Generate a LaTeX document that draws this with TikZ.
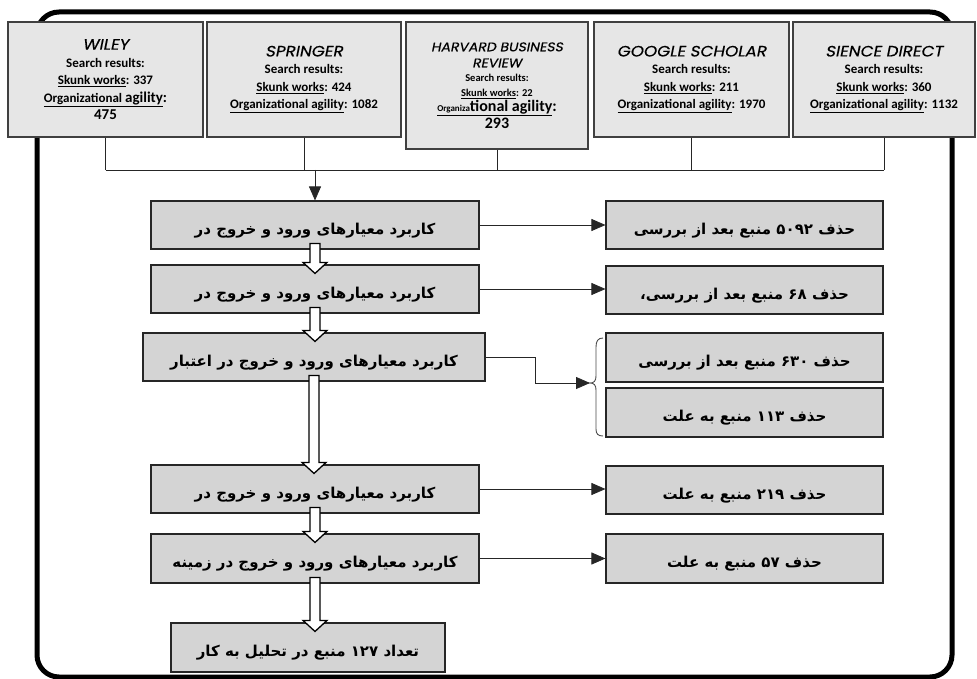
\documentclass[tikz,border=0pt]{standalone}
\usepackage{fontspec}
\setmainfont{Carlito}
\newfontfamily\arabicfont[Script=Arabic]{DejaVu Sans}
\newfontfamily\titlefont[FakeSlant=0.2, FakeStretch=1.12, FakeBold=0.4]{Poppins}
\TeXXeTstate=1
\usetikzlibrary{arrows.meta,calc}
\definecolor{topfill}{HTML}{E6E6E6}
\definecolor{boxfill}{HTML}{D4D4D4}
\newcommand\hollowarr[2]{%
  \draw[hollow] ($(#1.south)+(-5,-6)$) -- ($(#1.south |- #2.north)+(-5,-2)$) -- ++(-7,0)
    -- ($(#1.south |- #2.north)+(0,9)$) -- ($(#1.south |- #2.north)+(12,-2)$) -- ++(-7,0)
    -- ($(#1.south)+(5,-6)$) -- cycle;}
\newcommand\ttl[1]{{\titlefont\mdseries\fontsize{15}{17}\selectfont #1}}
\newcommand\fs[2]{\fontsize{#1}{#2}\selectfont}
\begin{document}
\begin{tikzpicture}[x=1pt,y=-1pt,
  topbox/.style={draw=black!75, line width=1.1pt, fill=topfill, inner sep=0pt, align=center,
    font=\bfseries\fontsize{13}{17.5}\selectfont},
  stepbox/.style={draw=black!85, line width=1.1pt, fill=boxfill, inner sep=0pt,
    text height=20pt, text depth=2pt,
    font=\arabicfont\bfseries\fontsize{15}{17}\selectfont},
  conn/.style={line width=0.8pt, draw=black!85},
  arr/.style={conn, -{Triangle[length=14pt,width=12pt]}},
  hollow/.style={draw=black, line width=1.3pt, fill=white},
]
\useasboundingbox (0,0) rectangle (977,679);
\fill[white] (0,0) rectangle (977,679);
% outer frame
\draw[line width=5pt, rounded corners=22pt] (37,12) rectangle (952,677);

% top source boxes
\node[topbox, minimum width=195pt, minimum height=115pt] (b1) at (105.5,79.5)
  {\ttl{WILEY}\\ Search results:\\ \underline{Skunk works}: 337\\
   \underline{Organizational {\fs{15}{18}agility}}{\fs{15}{18}:}\\
   {\fs{15}{18}475}};
\node[topbox, minimum width=194pt, minimum height=115pt] (b2) at (304,79.5)
  {\ttl{SPRINGER}\\ Search results:\\ \underline{Skunk works}: 424\\
   \underline{Organizational agility}: 1082};
\node[topbox, minimum width=182pt, minimum height=127pt, font=\bfseries\fs{13}{15}] (b3) at (497,85.5)
  {{\titlefont\mdseries\fs{12.5}{15}HARVARD BUSINESS}\\[1pt]
   {\titlefont\mdseries\fs{12.5}{15}REVIEW}\\[-1pt]
   {\fs{10.5}{15}Search results:}\\
   {\fs{10.5}{15}\underline{Skunk works}: 22}\\
   {\fs{16}{15}\underline{{\fs{9}{15}Organiza}tional agility}:}\\[1pt]
   {\fs{16}{15}293}};
\node[topbox, minimum width=195pt, minimum height=115pt] (b4) at (691.5,79.5)
  {\ttl{GOOGLE SCHOLAR}\\ Search results:\\ \underline{Skunk works}: 211\\
   \underline{Organizational agility}: 1970};
\node[topbox, minimum width=182pt, minimum height=115pt] (b5) at (884,79.5)
  {\ttl{SIENCE DIRECT}\\ Search results:\\ \underline{Skunk works}: 360\\
   \underline{Organizational agility}: 1132};

% main steps
\node[stepbox, minimum width=328pt, minimum height=48pt] (A1) at (315,225)
  {\beginR کاربرد معیارهای ورود و خروج در\endR};
\node[stepbox, minimum width=328pt, minimum height=48pt] (A2) at (315,289)
  {\beginR کاربرد معیارهای ورود و خروج در\endR};
\node[stepbox, minimum width=342pt, minimum height=48pt] (A3) at (314,357)
  {\beginR کاربرد معیارهای ورود و خروج در اعتبار\endR};
\node[stepbox, minimum width=328pt, minimum height=48pt] (B1) at (315,489)
  {\beginR کاربرد معیارهای ورود و خروج در\endR};
\node[stepbox, minimum width=328pt, minimum height=49pt] (B2) at (315,558.5)
  {\beginR کاربرد معیارهای ورود و خروج در زمینه\endR};
\node[stepbox, minimum width=274pt, minimum height=49pt] (C) at (308,647.5)
  {\beginR تعداد ۱۲۷ منبع در تحلیل به کار\endR};

% removal boxes
\node[stepbox, minimum width=277pt, minimum height=48pt] (R1) at (744.5,225)
  {\beginR حذف ۵۰۹۲ منبع بعد از بررسی\endR};
\node[stepbox, minimum width=277pt, minimum height=48pt] (R2) at (744.5,290)
  {\beginR حذف ۶۸ منبع بعد از بررسی،\endR};
\node[stepbox, minimum width=277pt, minimum height=49pt] (R3) at (744.5,357.5)
  {\beginR حذف ۶۳۰ منبع بعد از بررسی\endR};
\node[stepbox, minimum width=277pt, minimum height=49pt] (R4) at (744.5,412.5)
  {\beginR حذف ۱۱۳ منبع به علت\endR};
\node[stepbox, minimum width=277pt, minimum height=48pt] (R5) at (744.5,490)
  {\beginR حذف ۲۱۹ منبع به علت\endR};
\node[stepbox, minimum width=277pt, minimum height=49pt] (R6) at (744.5,558.5)
  {\beginR حذف ۵۷ منبع به علت\endR};

% connectors from the sources
\coordinate (hub) at (315,170);
\foreach \b in {b1,b2,b3,b4,b5} \draw[conn] (\b.south) -- (\b.south |- hub);
\draw[conn] (b1.south |- hub) -- (b5.south |- hub);
\draw[arr] (hub) -- (A1.north);

% hollow arrows down the chain
\hollowarr{A1}{A2}
\hollowarr{A2}{A3}
\hollowarr{A3}{B1}
\hollowarr{B1}{B2}
\hollowarr{B2}{C}

% brace
\coordinate (bt) at (590,383);
\draw[black!70, line width=0.9pt] (603,338) .. controls (598,338) and (596,341) .. (596,347)
  -- (596,376) .. controls (596,381) and (594,383) .. (bt)
  .. controls (594,383) and (596,385) .. (596,390)
  -- (596,429) .. controls (596,434) and (598,436) .. (603,436);

% side arrows
\draw[arr] (A1.east) -- (A1.east -| R1.west);
\draw[arr] (A2.east) -- (A2.east -| R2.west);
\draw[arr] (A3.east) -- ++(50,0) |- (bt);
\draw[arr] (B1.east) -- (B1.east -| R5.west);
\draw[arr] (B2.east) -- (B2.east -| R6.west);
\end{tikzpicture}
\end{document}
